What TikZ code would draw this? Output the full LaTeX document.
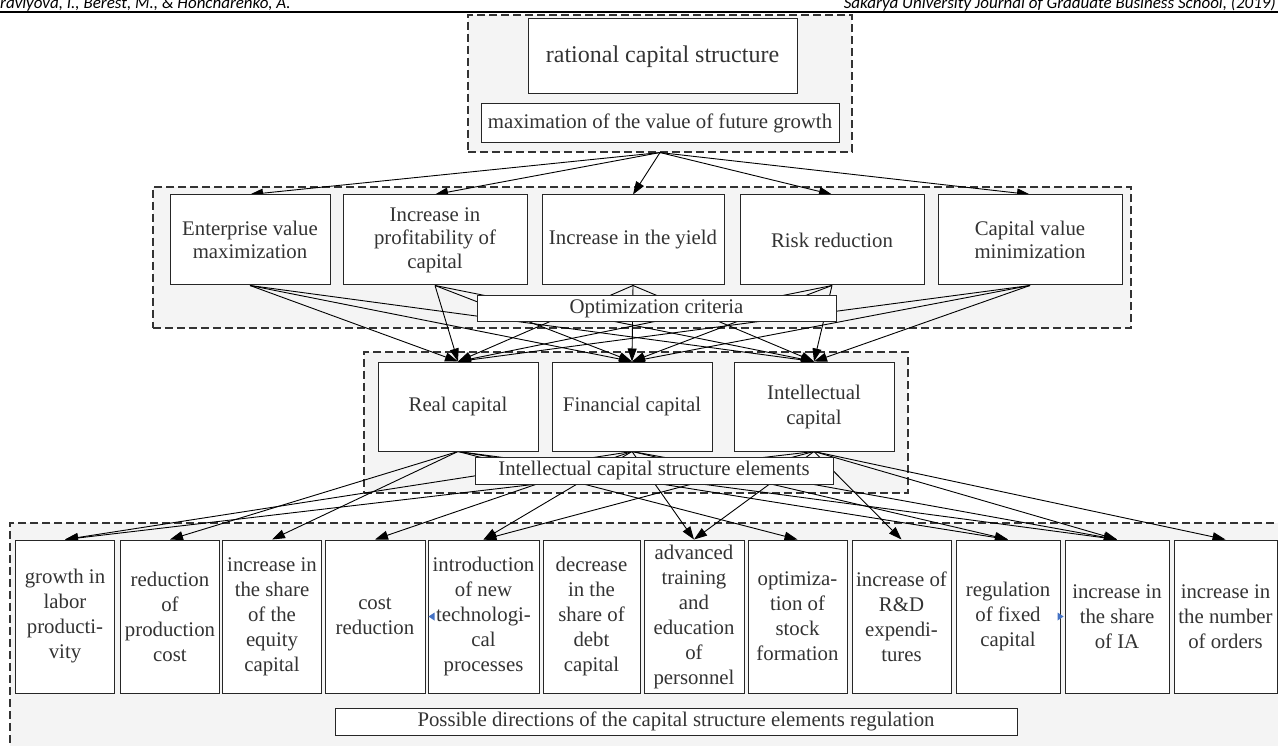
\documentclass[tikz,border=0pt]{standalone}
\usepackage{fontspec}
\setmainfont{Liberation Serif}
\newfontfamily\hdrfont{Carlito}
\usetikzlibrary{arrows.meta}
\pgfdeclarelayer{bg}
\pgfdeclarelayer{lines}
\pgfsetlayers{bg,lines,main}
\definecolor{txt}{HTML}{333333}
\definecolor{grpfill}{HTML}{F4F4F4}
\definecolor{tipblue}{HTML}{4472C4}
\begin{document}
\begin{tikzpicture}[x=1pt,y=-1pt,
  grp/.style={draw=black!80, dash pattern=on 8pt off 4pt, line width=1.1pt, fill=grpfill, inner sep=0pt},
  box/.style={draw=black!85, line width=1pt, fill=white, text=txt, align=center, inner sep=0pt, font=\fontsize{20.8}{25}\selectfont},
  cbox/.style={box, font=\fontsize{20.8}{23.5}\selectfont},
  conn/.style={draw=black, line width=0.9pt, -{Triangle[length=13pt,width=9pt]}},
  hdr/.style={font=\hdrfont\itshape\fontsize{17}{17}\selectfont, inner sep=0pt}
]
\useasboundingbox (0,0) rectangle (1278,746);

% groups
\begin{pgfonlayer}{bg}
\fill[white] (0,0) rectangle (1278,746);
\node[grp, minimum width=384pt, minimum height=137pt] (gtop) at (660,83.5) {};
\node[grp, minimum width=978pt, minimum height=141pt] (gcrit) at (642,257.5) {};
\node[grp, minimum width=544pt, minimum height=141pt] (gcap) at (636,422.5) {};
\node[grp, minimum width=1280pt, minimum height=240pt] (gbot) at (650,643) {};
\end{pgfonlayer}

% header
\node[hdr, anchor=base west] (hl) at (0,9) {ravlyova, I., Berest, M., \& Honcharenko, A.};
\node[hdr, anchor=base east] (hr) at (1276,9) {Sakarya University Journal of Graduate Business School, (2019)};
\draw[line width=2pt] (0,12.5) -- (1278,12.5);

% top
\node[box, minimum width=269pt, minimum height=75pt, font=\fontsize{24}{28}\selectfont] (rat) at (662.5,56.5) {rational capital structure};
\node[box, minimum width=358pt, minimum height=39pt] (maxv) at (660,123.5) {maximation of the value of future growth};

% criteria
\node[cbox, minimum width=160pt, minimum height=90pt] (c1) at (250,240) {Enterprise value\\maximization};
\node[cbox, minimum width=184pt, minimum height=90pt] (c2) at (435,240) {Increase in\\profitability of\\capital};
\node[cbox, minimum width=182pt, minimum height=90pt] (c3) at (633,240) {Increase in the yield};
\node[cbox, minimum width=184pt, minimum height=90pt] (c4) at (832,240) {Risk reduction};
\node[cbox, minimum width=184pt, minimum height=90pt] (c5) at (1030,240) {Capital value\\minimization};
\node[box, minimum width=359pt, minimum height=26pt] (opt) at (656.5,309) {Optimization criteria};

% capital
\node[box, minimum width=160pt, minimum height=89pt] (real) at (458,406.5) {Real capital};
\node[box, minimum width=160pt, minimum height=89pt] (fin) at (632,406.5) {Financial capital};
\node[box, minimum width=160pt, minimum height=89pt] (intel) at (814,406.5) {Intellectual\\capital};
\node[box, minimum width=358pt, minimum height=27pt] (icse) at (654,470.5) {Intellectual capital structure elements};

% bottom row
\node[box, minimum width=99pt, minimum height=153pt] (b1) at (65,616.5) {growth in\\labor\\producti-\\vity};
\node[box, minimum width=99pt, minimum height=153pt] (b2) at (170,616.5) {reduction\\of\\production\\cost};
\node[box, minimum width=99pt, minimum height=153pt] (b3) at (272,616.5) {increase in\\the share\\of the\\equity\\capital};
\node[box, minimum width=100pt, minimum height=153pt] (b4) at (375,616.5) {cost\\reduction};
\node[box, minimum width=111pt, minimum height=153pt] (b5) at (483.5,616.5) {introduction\\of new\\technologi-\\cal\\processes};
\node[box, minimum width=97pt, minimum height=153pt] (b6) at (591.5,616.5) {decrease\\in the\\share of\\debt\\capital};
\node[box, minimum width=100pt, minimum height=153pt] (b7) at (694,616.5) {advanced\\training\\and\\education\\of\\personnel};
\node[box, minimum width=99pt, minimum height=153pt] (b8) at (797.5,616.5) {optimiza-\\tion of\\stock\\formation};
\node[box, minimum width=99pt, minimum height=153pt] (b9) at (901.5,616.5) {increase of\\R\&D\\expendi-\\tures};
\node[box, minimum width=104pt, minimum height=153pt] (b10) at (1008,616.5) {regulation\\of fixed\\capital};
\node[box, minimum width=104pt, minimum height=153pt] (b11) at (1117,616.5) {increase in\\the share\\of IA};
\node[box, minimum width=103pt, minimum height=153pt] (b12) at (1225.5,616.5) {increase in\\the number\\of orders};
\node[box, minimum width=682pt, minimum height=27pt] (poss) at (676,721.5) {Possible directions of the capital structure elements regulation};

% connectors
\begin{pgfonlayer}{lines}
\foreach \t in {c1,c2,c3,c4,c5} \draw[conn] (gtop.south) -- (\t.north);
\foreach \s in {c1,c2,c3,c4,c5}
  \foreach \t in {real,fin,intel} \draw[conn] (\s.south) -- (\t.north);
\foreach \t in {b2,b3,b8,b10,b11} \draw[conn] (real.south) -- (\t.north);
\foreach \t in {b1,b4,b5,b7,b10,b11} \draw[conn] (fin.south) -- (\t.north);
\foreach \t in {b1,b5,b7,b9,b11,b12} \draw[conn] (intel.south) -- (\t.north);
\end{pgfonlayer}

% small blue tips
\fill[tipblue] ([xshift=1pt]b5.west) -- ++(6,-4) -- ++(0,8) -- cycle;
\fill[tipblue] ([xshift=-1pt]b11.west) -- ++(-6,-4) -- ++(0,8) -- cycle;
\end{tikzpicture}
\end{document}
